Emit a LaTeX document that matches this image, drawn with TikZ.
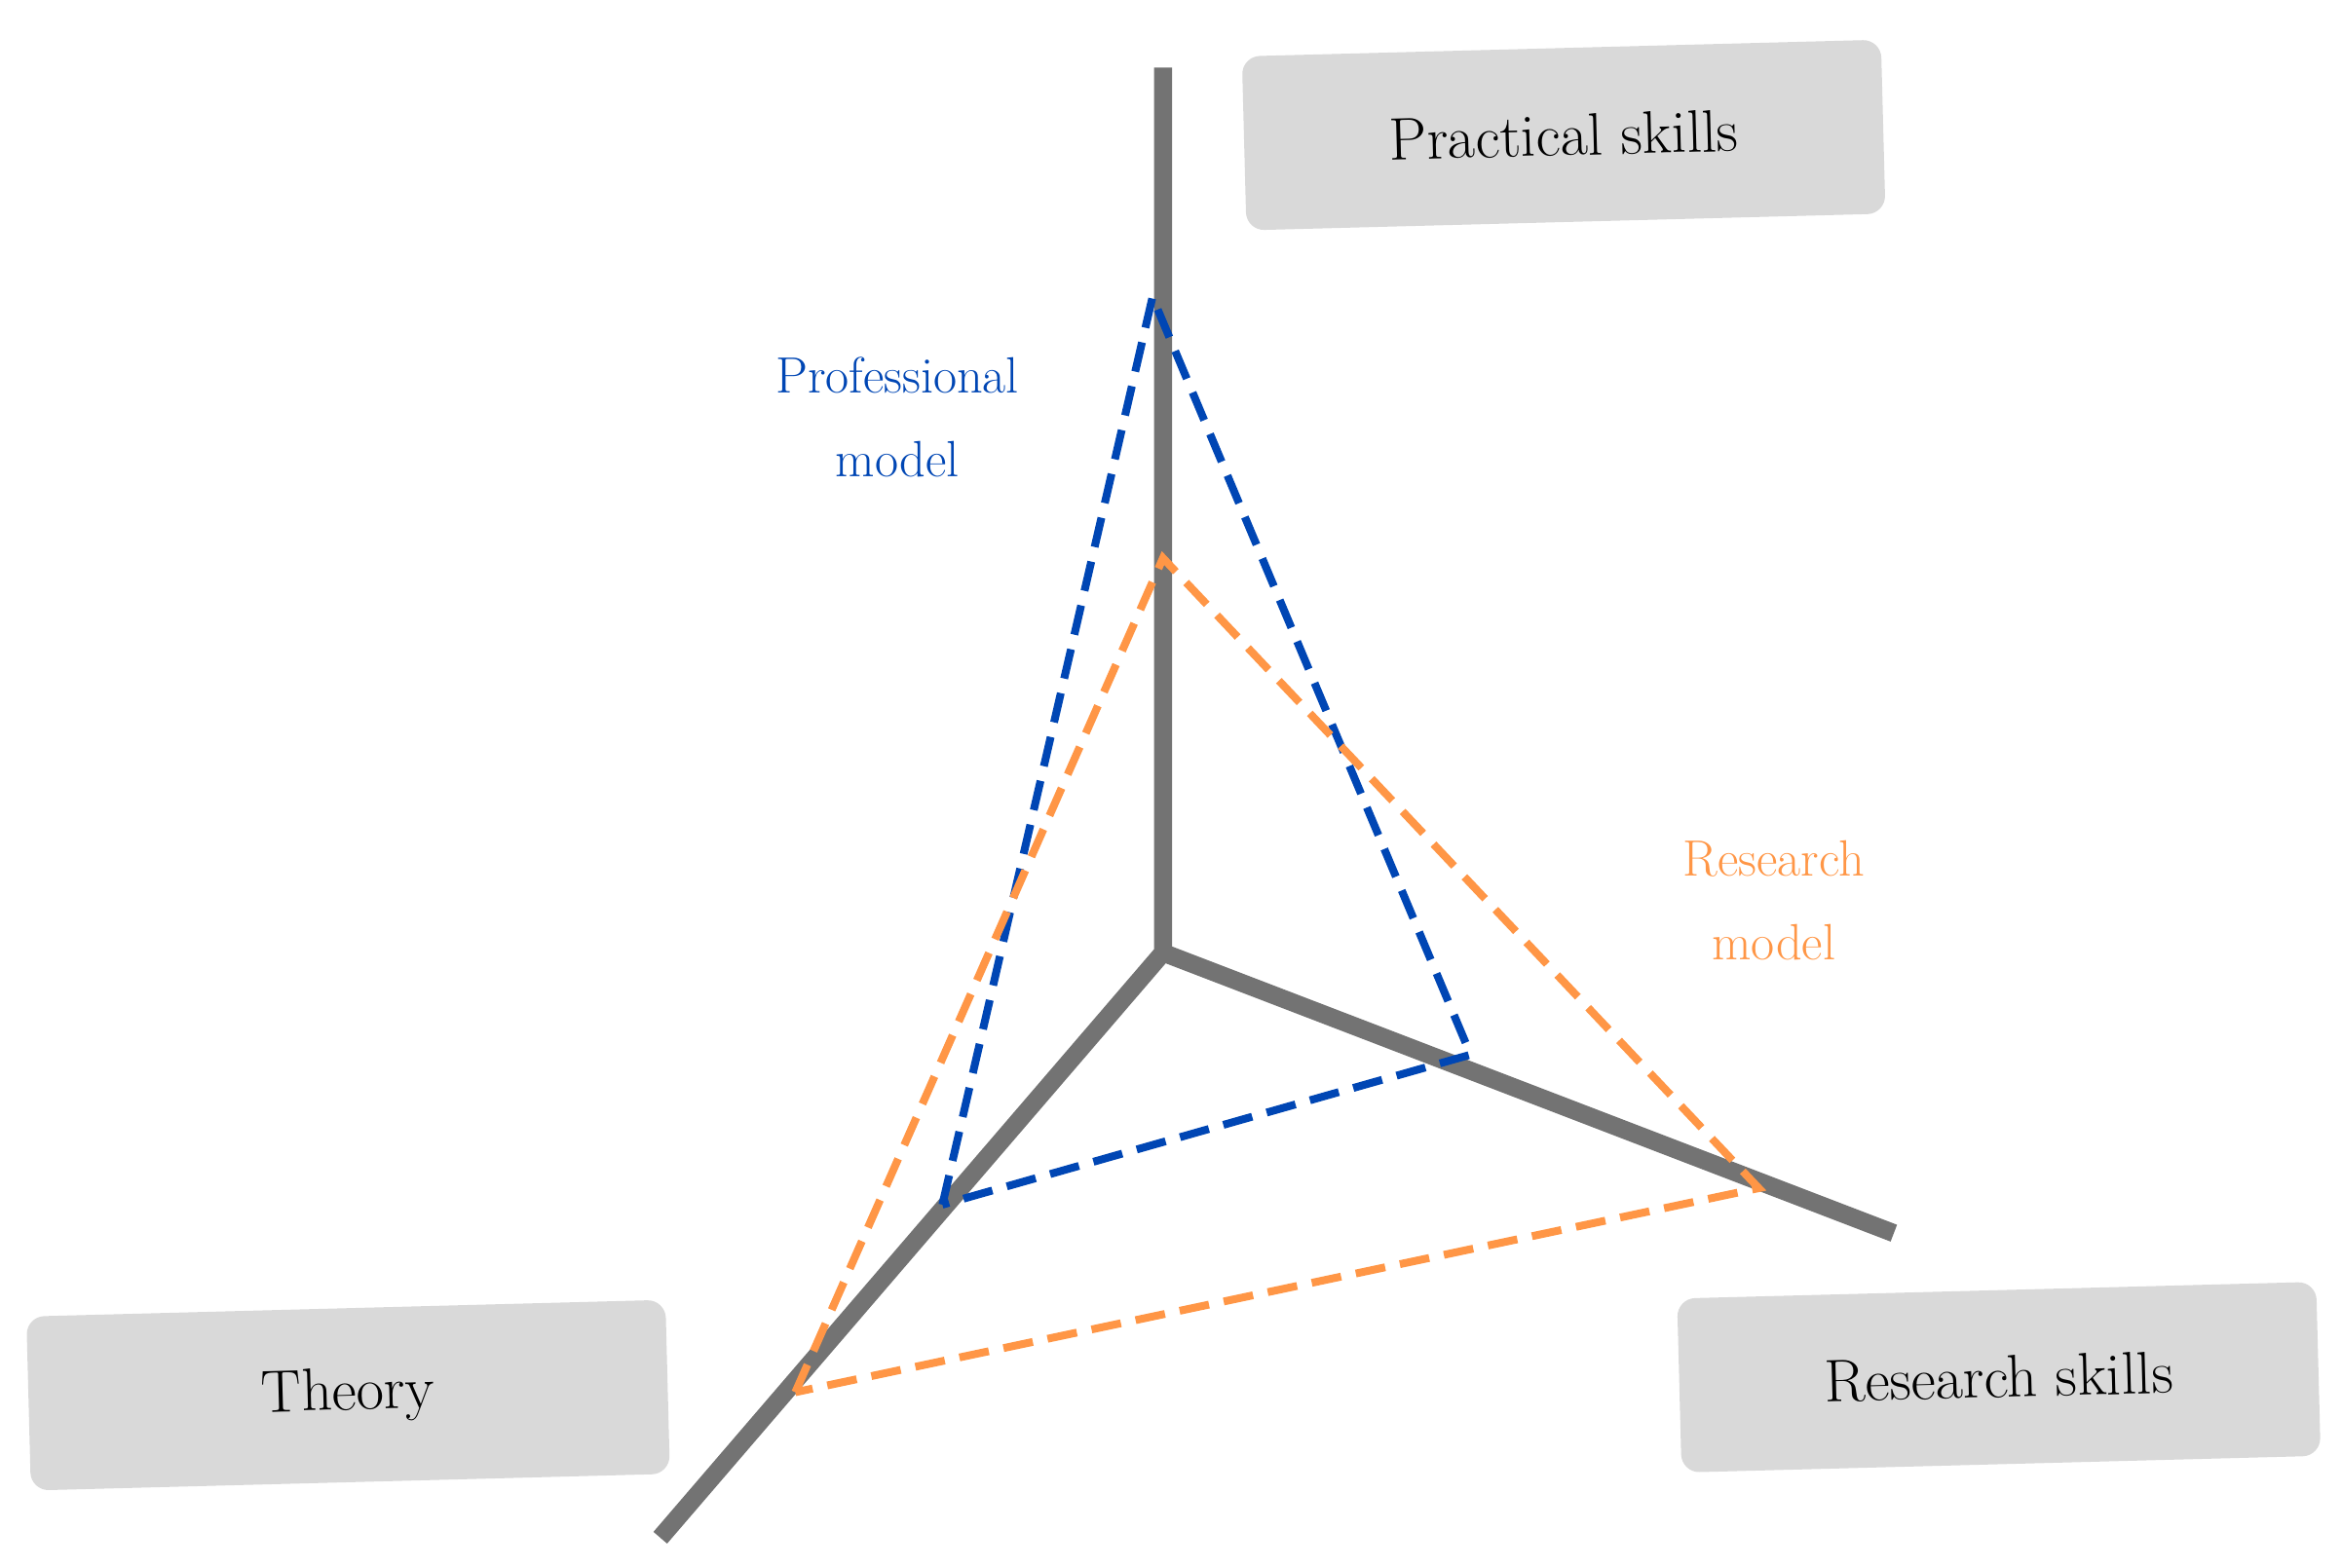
\documentclass[tikz,border=0pt]{standalone}
\begin{document}
\begin{tikzpicture}[x=0.5pt,y=-0.5pt,
 axis/.style={line width=6pt,color=black!55},
 blued/.style={line width=2.6pt,color={rgb,255:red,0;green,70;blue,180},dash pattern=on 10pt off 5pt},
 orad/.style={line width=2.6pt,color={rgb,255:red,255;green,150;blue,70},dash pattern=on 10pt off 5pt},
 lab/.style={fill={rgb,255:red,217;green,217;blue,217},rounded corners=6pt,minimum width=213pt,minimum height=58pt,font=\fontsize{20}{24}\selectfont},
 mlab/.style={align=center,font=\fontsize{17}{28}\selectfont}]
\useasboundingbox (0,0) rectangle (1560,1045);
\coordinate (O) at (775,635);
\coordinate (T) at (775,45);
\coordinate (L) at (440,1025);
\coordinate (R) at (1262,822);
\draw[axis] (T) -- (O) -- (L);
\draw[axis] (O) -- (R);
\coordinate (bt) at (768,198);
\coordinate (bl) at (628,803);
\coordinate (br) at (980,703);
\draw[blued] (bl) -- (bt) -- (br) -- cycle;
\coordinate (ot) at (775,372);
\coordinate (ol) at (530,928);
\coordinate (or) at (1172,792);
\draw[orad] (ol) -- (ot) -- (or) -- cycle;
\node[lab,rotate=1.5] (ps) at (1042,90) {Practical skills};
\node[lab,rotate=1.5] (th) at (232,930) {Theory};
\node[lab,rotate=1.5] (rs) at (1332,918) {Research skills};
\node[mlab,text={rgb,255:red,0;green,70;blue,180}] (pm) at (598,278) {Professional\\model};
\node[mlab,text={rgb,255:red,255;green,150;blue,70}] (rm) at (1182,600) {Research\\model};
\end{tikzpicture}
\end{document}
